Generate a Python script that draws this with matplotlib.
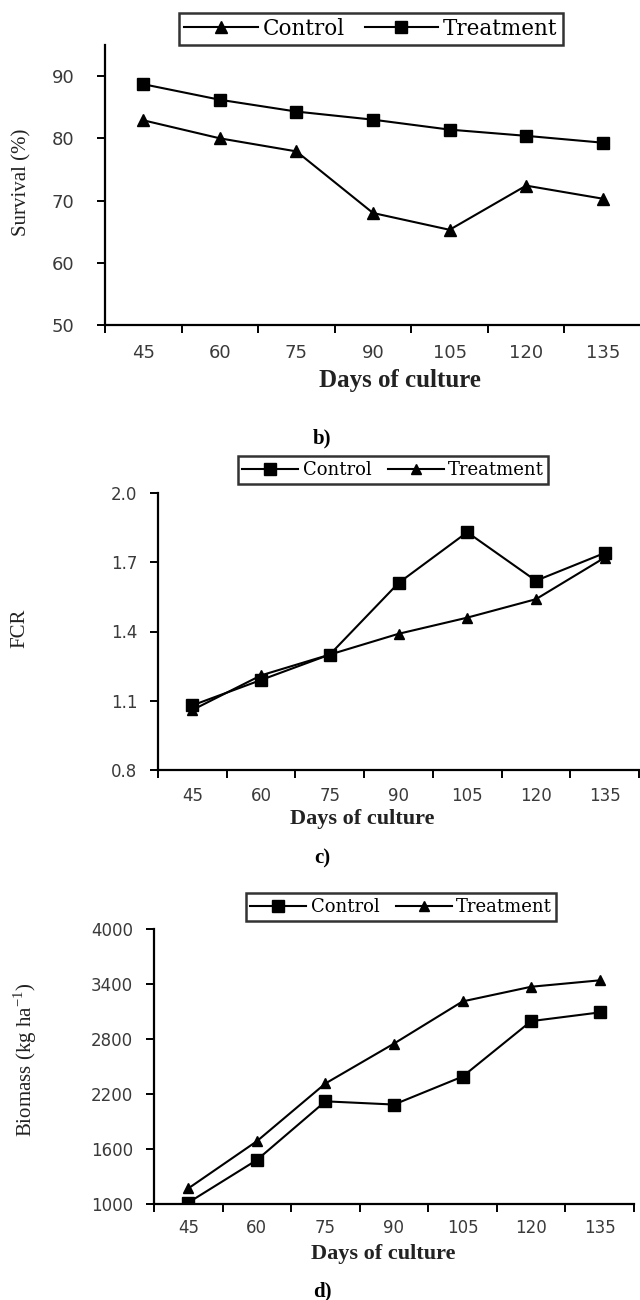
import matplotlib
matplotlib.use("Agg")
import matplotlib.pyplot as plt
import numpy as np

matplotlib.rcParams.update({'font.size': 12, 'font.family': 'DejaVu Sans'})

days = ['45', '60', '75', '90', '105', '120', '135']

# b) survival (%)
surv_control = [82.9, 80.0, 77.9, 68.0, 65.3, 72.4, 70.3]
surv_treatment = [88.7, 86.2, 84.3, 83.0, 81.4, 80.4, 79.3]
surv_ticks = [50, 60, 70, 80, 90]

# c) FCR
fcr_control = [1.08, 1.19, 1.30, 1.61, 1.83, 1.62, 1.74]
fcr_treatment = [1.06, 1.21, 1.30, 1.39, 1.46, 1.54, 1.72]
fcr_ticks = [0.8, 1.1, 1.4, 1.7, 2.0]

# d) biomass (kg/ha)
bio_control = [1015, 1480, 2120, 2085, 2390, 2995, 3090]
bio_treatment = [1170, 1685, 2315, 2750, 3210, 3370, 3440]
bio_ticks = [1000, 1600, 2200, 2800, 3400, 4000]

W, H = 640, 1300
fig = plt.figure(figsize=(W / 100, H / 100), dpi=100)


def rect(left, top, right, bottom):
    return [left / W, 1 - bottom / H, (right - left) / W, (bottom - top) / H]


def fpos(x, y):
    return x / W, 1 - y / H


def panel(box, ylim, yticks, yfmt, series, leg_c, leg_fs, handle_len,
          ylabel, ylab_xy, tick_fs, ypad, xpad, xlab_xy, xlab_fs, tag, tag_y):
    ax = fig.add_axes(rect(*box))
    x = np.arange(len(days)) + 0.5
    handles = []
    for vals, mk, ms, lab in series:
        h, = ax.plot(x, vals, color='k', lw=1.5, marker=mk, ms=ms,
                     mfc='k', mec='k', label=lab)
        handles.append(h)
    ax.set_xlim(0, len(days))
    ax.set_ylim(*ylim)
    ax.set_yticks(yticks)
    ax.set_yticklabels([yfmt.format(v) for v in yticks], color='#3a3a3a',
                       fontsize=tick_fs)
    ax.set_xticks(np.arange(len(days) + 1))
    ax.set_xticklabels([])
    ax.set_xticks(x, minor=True)
    ax.set_xticklabels(days, minor=True, color='#3a3a3a', fontsize=tick_fs)
    ax.tick_params(axis='x', which='major', direction='out', length=6, width=1.4)
    ax.tick_params(axis='x', which='minor', length=0, pad=xpad)
    ax.tick_params(axis='y', direction='out', length=6, width=1.4, pad=ypad)
    for s in ['top', 'right']:
        ax.spines[s].set_visible(False)
    for s in ['left', 'bottom']:
        ax.spines[s].set_linewidth(1.6)

    cx, cy = fpos(*leg_c)
    leg = fig.legend(handles=handles, loc='center', bbox_to_anchor=(cx, cy),
                     ncol=2, frameon=True, fancybox=False, handlelength=handle_len,
                     handletextpad=0.25, columnspacing=0.9, borderpad=0.25,
                     prop={'family': 'DejaVu Serif', 'size': leg_fs})
    leg.get_frame().set_edgecolor('k')
    leg.get_frame().set_linewidth(1.8)

    lx, ly = fpos(*ylab_xy)
    fig.text(lx, ly, ylabel, rotation=90, ha='center', va='center',
             family='Liberation Serif', fontsize=15, color='#222222')
    tx, ty = fpos(*xlab_xy)
    fig.text(tx, ty, 'Days of culture', ha='center', va='center',
             family='Liberation Serif', fontweight='bold', fontsize=xlab_fs,
             color='#222222')
    gx, gy = fpos(322, tag_y)
    fig.text(gx, gy, tag, ha='center', va='center', family='Liberation Serif',
             fontweight='bold', fontsize=15)
    return ax


panel((105, 45, 641, 325), (50, 95), surv_ticks, '{:d}',
      [(surv_control, '^', 9, 'Control'), (surv_treatment, 's', 8.5, 'Treatment')],
      (371, 29), 15.5, 3.4, 'Survival (%)', (22, 182), 13, 16, 14,
      (400, 380), 18, 'b)', 438)

panel((158, 493, 639, 770), (0.8, 2.0), fcr_ticks, '{:.1f}',
      [(fcr_control, 's', 8, 'Control'), (fcr_treatment, '^', 7.5, 'Treatment')],
      (393, 470), 13, 3.1, 'FCR', (20, 628), 12, 9, 12,
      (362, 819), 16, 'c)', 858)

panel((154, 929, 634, 1204), (1000, 4000), bio_ticks, '{:d}',
      [(bio_control, 's', 8, 'Control'), (bio_treatment, '^', 7.5, 'Treatment')],
      (401, 907), 13, 3.1, 'Biomass (kg ha$^{\\mathregular{-1}}$)', (25, 1060),
      12, 9, 11, (383, 1254), 16, 'd)', 1291)

fig.savefig('out.png', dpi=100)
